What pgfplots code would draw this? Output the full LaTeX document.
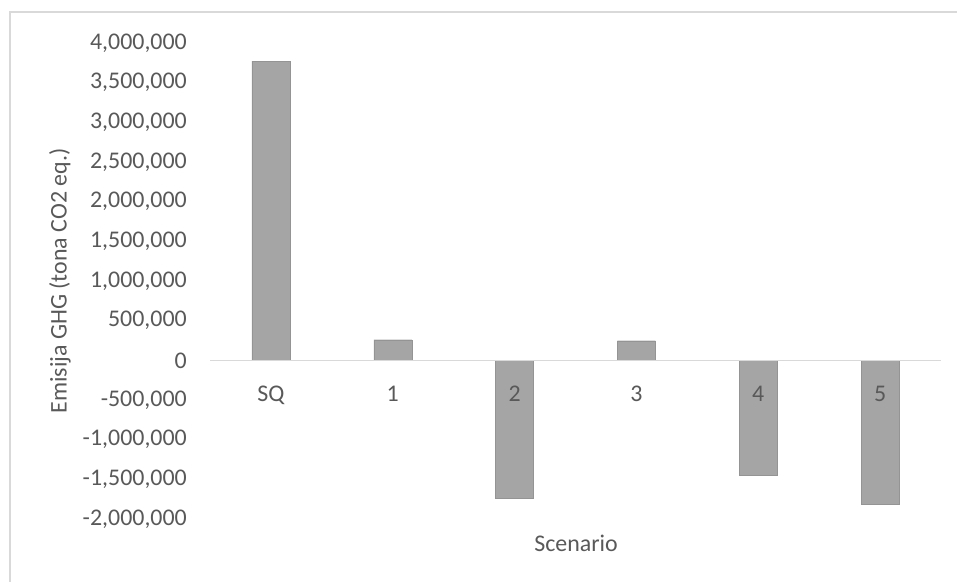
\documentclass[border=0pt]{standalone}
\usepackage{fontspec}
\setmainfont{Carlito}
\usepackage{pgfplots}
\pgfplotsset{compat=1.18}
\definecolor{txt}{HTML}{595959}
\definecolor{barc}{HTML}{A5A5A5}
\definecolor{linec}{HTML}{D9D9D9}
\begin{document}
\fontsize{24}{29}\selectfont
\begin{tikzpicture}
\useasboundingbox (0,0) rectangle (957bp,582bp);
\fill[white] (0,0) rectangle (957bp,582bp);
\draw[linec, line width=1.2bp] (10bp,0) -- (10bp,570bp) -- (957bp,570bp);
\begin{axis}[
  at={(210bp,63bp)}, anchor=south west,
  scale only axis, width=731bp, height=476bp,
  axis on top,
  ybar, bar width=38bp,
  xmin=-0.5, xmax=5.5,
  ymin=-2000000, ymax=4000000,
  axis x line=middle, axis y line=left,
  hide obscured x ticks=false, hide obscured y ticks=false,
  x axis line style={-, linec, line width=1.2bp},
  y axis line style={draw=none},
  major tick length=0pt,
  xtick={0,1,2,3,4,5},
  xticklabels={SQ,1,2,3,4,5},
  ytick={-2000000,-1500000,-1000000,-500000,0,500000,1000000,1500000,2000000,2500000,3000000,3500000,4000000},
  scaled y ticks=false,
  /pgf/number format/assume math mode=true,
  yticklabel style={/pgf/number format/.cd, fixed, precision=0, 1000 sep={,}, /tikz/.cd, anchor=east, inner sep=0pt, xshift=-23bp, font=\fontsize{24}{29}\selectfont, text=txt},
  xticklabel style={anchor=base, inner sep=0pt, yshift=-41bp, font=\fontsize{24}{29}\selectfont, text=txt},
  xlabel={Scenario},
  ylabel={Emisija GHG (tona CO2 eq.)},
  every axis x label/.style={at={(axis description cs:0.5007,-0.0504)}, anchor=center, font=\fontsize{24}{29}\selectfont, text=txt},
  every axis y label/.style={at={(axis description cs:-0.2052,0.5)}, rotate=90, anchor=center, font=\fontsize{24}{29}\selectfont, text=txt},
]
\addplot[fill=barc, draw=barc!90!black, line width=0.4bp] coordinates {
  (0,3770000) (1,260000) (2,-1735000) (3,247000) (4,-1445000) (5,-1815000)
};
\end{axis}
\end{tikzpicture}
\end{document}
